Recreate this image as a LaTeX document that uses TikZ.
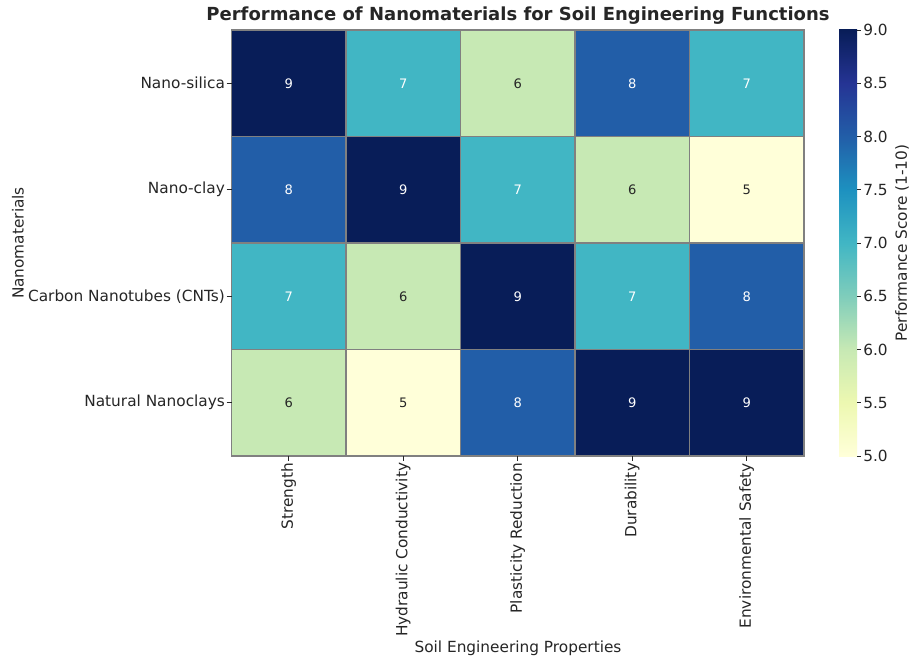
\documentclass[tikz,border=0pt]{standalone}
\usepackage{fontspec}
\setmainfont{DejaVu Sans}
\definecolor{c5}{HTML}{FFFFD9}
\definecolor{c55}{HTML}{EDF8B1}
\definecolor{c6}{HTML}{C7E9B4}
\definecolor{c65}{HTML}{7FCDBB}
\definecolor{c7}{HTML}{41B6C4}
\definecolor{c75}{HTML}{1D91C0}
\definecolor{c8}{HTML}{225EA8}
\definecolor{c85}{HTML}{253494}
\definecolor{c9}{HTML}{081D58}
\definecolor{ink}{HTML}{262626}
\colorlet{t5}{ink}
\colorlet{t6}{ink}
\colorlet{t7}{white}
\colorlet{t8}{white}
\colorlet{t9}{white}
\pgfdeclareverticalshading{ylgnbu}{100bp}{color(0bp)=(c5); color(25bp)=(c5); color(31.25bp)=(c55); color(37.5bp)=(c6); color(43.75bp)=(c65); color(50bp)=(c7); color(56.25bp)=(c75); color(62.5bp)=(c8); color(68.75bp)=(c85); color(75bp)=(c9); color(100bp)=(c9)}
\begin{document}
\begin{tikzpicture}[x=0.75pt,y=-0.75pt,
  cell/.style={draw=gray, line width=0.8pt, minimum width=85.875pt, minimum height=79.875pt, inner sep=0pt, font=\fontsize{9.8}{11}\selectfont},
  ticklab/.style={text=ink, font=\fontsize{11.5}{13}\selectfont, inner sep=0pt},
  tickmark/.style={draw=ink, line width=0.6pt}]
\useasboundingbox (0,0) rectangle (911,656);
\fill[white] (0,0) rectangle (911,656);
% title
\node[text=ink, font=\bfseries\fontsize{13.5}{16}\selectfont] (title) at (518,16) {Performance of Nanomaterials for Soil Engineering Functions};
% cells
\foreach \v [count=\i from 0] in {9,7,6,8,7, 8,9,7,6,5, 7,6,9,7,8, 6,5,8,9,9} {
  \pgfmathtruncatemacro\row{\i/5}
  \pgfmathtruncatemacro\col{mod(\i,5)}
  \node[cell, fill=c\v, text=t\v] (c\row\col) at ({231.5+114.5*(\col+0.5)},{30+106.5*(\row+0.5)}) {\v};
}
% row labels
\foreach \lab [count=\r from 0] in {Nano-silica,Nano-clay,Carbon Nanotubes (CNTs),Natural Nanoclays} {
  \coordinate (rt\r) at (226.5,{30+106.5*(\r+0.5)});
  \draw[tickmark] (rt\r) -- ++(5,0);
  \node[ticklab, anchor=east] (rl\r) at ([xshift=-1pt]rt\r) {\lab};
}
% column labels
\foreach \lab [count=\c from 0] in {Strength,Hydraulic Conductivity,Plasticity Reduction,Durability,Environmental Safety} {
  \coordinate (ct\c) at ({231.5+114.5*(\c+0.5)},456);
  \draw[tickmark] (ct\c) -- ++(0,5);
  \node[ticklab, rotate=90, anchor=east] (cl\c) at ([yshift=-5pt]ct\c) {\lab};
}
% axis labels
\node[ticklab, rotate=90] (ylab) at (18,243) {Nanomaterials};
\node[ticklab] (xlab) at (518,648) {Soil Engineering Properties};
% colorbar
\shade[shading=ylgnbu] (839,30) rectangle (857,456);
\foreach \t [count=\k from 0] in {5.0,5.5,6.0,6.5,7.0,7.5,8.0,8.5,9.0} {
  \coordinate (cb\k) at (857,{456-426*\k/8});
  \draw[tickmark] (cb\k) -- ++(4,0);
  \node[ticklab, anchor=west] (cbl\k) at ([xshift=4.5pt]cb\k) {\t};
}
\node[ticklab, rotate=90] (cblab) at (902,243) {Performance Score (1-10)};
\end{tikzpicture}
\end{document}
